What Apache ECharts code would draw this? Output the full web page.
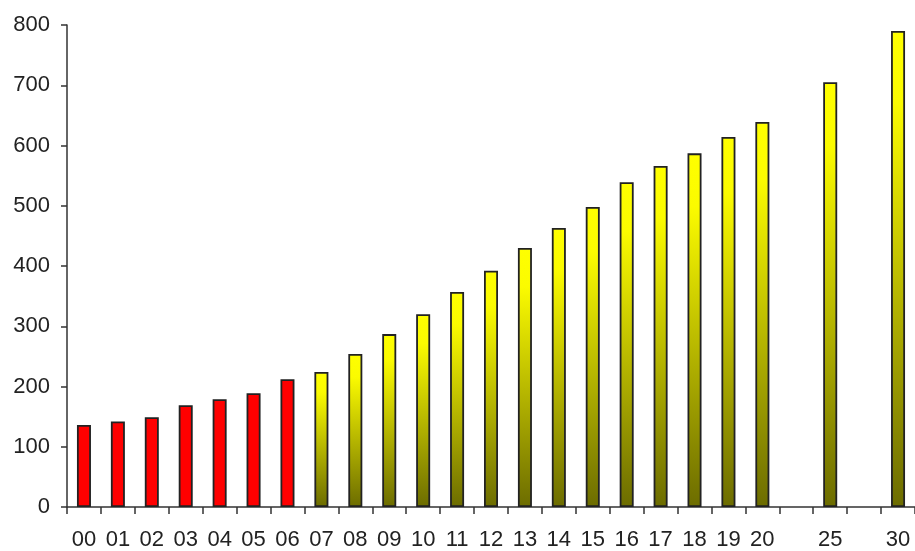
<!DOCTYPE html>
<html>
<head>
<meta charset="utf-8">
<script src="https://cdn.jsdelivr.net/npm/echarts@6/dist/echarts.min.js"></script>
<style>
  html, body { margin: 0; padding: 0; background: #ffffff; }
  #chart { width: 915px; height: 551px; }
</style>
</head>
<body>
<div id="chart"></div>
<script>
// Year labels (two-digit), with empty slots between 20, 25 and 30
const categories = ['00','01','02','03','04','05','06','07','08','09','10',
  '11','12','13','14','15','16','17','18','19','20','','25','','30'];

// Values per year; '-' marks an empty slot
const values = [136, 142, 149, 169, 179, 189, 212, 224, 254, 287, 320,
  357, 392, 430, 463, 498, 539, 566, 587, 614, 639, '-', 705, '-', 790];

// The first years are recorded figures, the rest are projections
const recordedCount = 7;

const yTicks = { min: 0, max: 800, step: 100 };

const recordedStyle = { color: '#ff0000' };
const projectedStyle = {
  color: new echarts.graphic.LinearGradient(0, 0, 0, 1, [
    { offset: 0, color: '#ffff00' },
    { offset: 0.15, color: '#fbfb00' },
    { offset: 1, color: '#6c6c00' }
  ])
};

const barData = values.map((v, i) => ({
  value: v,
  itemStyle: i < recordedCount ? recordedStyle : projectedStyle
}));

const font = '"Liberation Sans", Arial, Helvetica, sans-serif';
const chart = echarts.init(document.getElementById('chart'), null, { renderer: 'canvas' });

chart.setOption({
  animation: false,
  backgroundColor: '#ffffff',
  grid: { left: 67, top: 25, width: 850, height: 485, containLabel: false },
  xAxis: {
    type: 'category',
    data: categories,
    boundaryGap: true,
    axisLine: { show: true, lineStyle: { color: '#333333', width: 1.5 } },
    axisTick: { show: true, length: 7, interval: 0, lineStyle: { color: '#333333', width: 1.5 } },
    axisLabel: { interval: 0, margin: 22, color: '#222222', fontSize: 22, fontFamily: font },
    splitLine: { show: false }
  },
  yAxis: {
    type: 'value',
    min: yTicks.min,
    max: yTicks.max,
    interval: yTicks.step,
    axisLine: { show: true, lineStyle: { color: '#333333', width: 1.5 } },
    axisTick: { show: true, length: 6, lineStyle: { color: '#333333', width: 1.5 } },
    axisLabel: { margin: 17, color: '#222222', fontSize: 22, fontFamily: font },
    splitLine: { show: false }
  },
  series: [{
    type: 'bar',
    data: barData,
    barWidth: 14,
    itemStyle: { borderColor: '#222222', borderWidth: 1.8 }
  }]
});
</script>
</body>
</html>
